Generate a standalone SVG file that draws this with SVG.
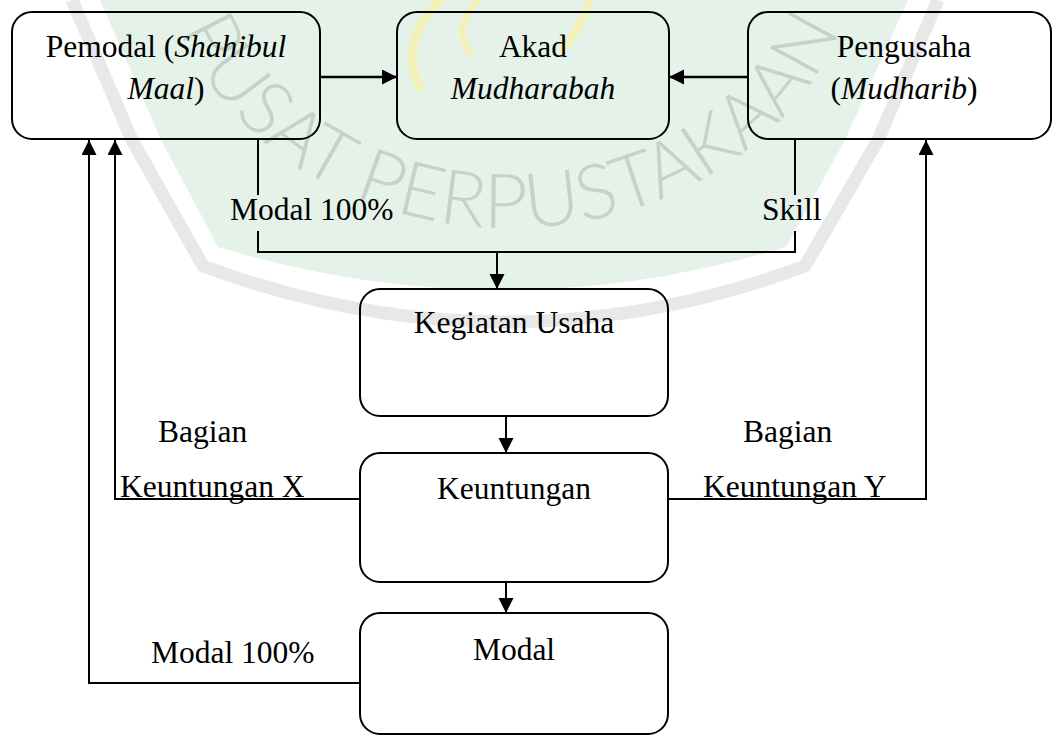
<svg xmlns="http://www.w3.org/2000/svg" width="1054" height="736" viewBox="0 0 1054 736">
  <style>
    .box { fill: none; stroke: #000; stroke-width: 2; }
    .t { font-family: "Liberation Serif", "Times New Roman", serif; font-size: 31.5px; fill: #000; }
    .c { text-anchor: middle; }
    .i { font-style: italic; }
    .ln { fill: none; stroke: #000; stroke-width: 2; }
    .wm { font-family: "Lato", "Liberation Sans", sans-serif; font-weight: 300; font-size: 76px; fill: #c6d1ca; }
  </style>
  <defs>
    <marker id="arr" markerUnits="userSpaceOnUse" markerWidth="16" markerHeight="16" refX="15" refY="7.5" orient="auto">
      <path d="M0,0 L15,7.5 L0,15 Z" fill="#000"/>
    </marker>
    <path id="wmArc" d="M160,-70 A350 298 0 0 0 860,-70"/>
  </defs>

  <rect width="1054" height="736" fill="#fff"/>

  <g id="watermark">
    <path d="M72,0 L132,140 L203,266 Q505,378 805,266 L878,140 L938,0" fill="none" stroke="#e8e8e8" stroke-width="13" stroke-linejoin="round"/>
    <path d="M100,0 L161,140 L218,247 Q502,333 786,247 L845,140 L908,0 Z" fill="#e4f2ea"/>
    <path d="M440,0 Q398,42 420,88" fill="none" stroke="#f4f1b8" stroke-width="9" stroke-linecap="round"/>
    <path d="M478,0 Q452,28 470,52" fill="none" stroke="#f4f1b8" stroke-width="7" stroke-linecap="round"/>
    <path d="M590,0 Q580,30 562,50" fill="none" stroke="#f4f1b8" stroke-width="8" stroke-linecap="round"/>
    <text class="wm"><textPath href="#wmArc" startOffset="50%" text-anchor="middle">PUSAT PERPUSTAKAAN</textPath></text>
  </g>

  <g id="connectors">
    <path class="ln" style="stroke-width:2.5" d="M320,77 H397" marker-end="url(#arr)"/>
    <path class="ln" style="stroke-width:2.5" d="M748,77 H669" marker-end="url(#arr)"/>
    <path class="ln" d="M258,140 V195"/>
    <path class="ln" d="M258,231 V252 H795 V231"/>
    <path class="ln" d="M795,140 V195"/>
    <path class="ln" d="M497,252 V289" marker-end="url(#arr)"/>
    <path class="ln" d="M506,416 V453" marker-end="url(#arr)"/>
    <path class="ln" d="M506,582 V613" marker-end="url(#arr)"/>
    <path class="ln" d="M360,499 H115 V140" marker-end="url(#arr)"/>
    <path class="ln" d="M360,683 H89 V140" marker-end="url(#arr)"/>
    <path class="ln" d="M668,499 H926 V140" marker-end="url(#arr)"/>
  </g>

  <g id="labels">
    <text class="t" x="230" y="220">Modal 100%</text>
    <text class="t" x="762" y="220">Skill</text>
    <text class="t" x="158" y="442">Bagian</text>
    <text class="t" x="120" y="497">Keuntungan X</text>
    <text class="t" x="743" y="442">Bagian</text>
    <text class="t" x="703" y="497">Keuntungan Y</text>
    <text class="t" x="151" y="663">Modal 100%</text>
  </g>

  <g id="pemodal">
    <rect class="box" x="12" y="12" width="308" height="127" rx="20"/>
    <text class="t c" x="166" y="57">Pemodal (<tspan class="i">Shahibul</tspan></text>
    <text class="t c" x="166" y="99"><tspan class="i">Maal</tspan>)</text>
  </g>

  <g id="akad">
    <rect class="box" x="397" y="12" width="272" height="127" rx="20"/>
    <text class="t c" x="533" y="57">Akad</text>
    <text class="t c i" x="533" y="99">Mudharabah</text>
  </g>

  <g id="pengusaha">
    <rect class="box" x="748" y="12" width="303" height="127" rx="20"/>
    <text class="t c" x="904" y="57">Pengusaha</text>
    <text class="t c" x="904" y="99">(<tspan class="i">Mudharib</tspan>)</text>
  </g>

  <g id="kegiatan">
    <rect class="box" x="360" y="289" width="308" height="127" rx="20"/>
    <text class="t c" x="514" y="333">Kegiatan Usaha</text>
  </g>

  <g id="keuntungan">
    <rect class="box" x="360" y="453" width="308" height="129" rx="20"/>
    <text class="t c" x="514" y="499">Keuntungan</text>
  </g>

  <g id="modal">
    <rect class="box" x="360" y="613" width="308" height="121" rx="20"/>
    <text class="t c" x="514" y="660">Modal</text>
  </g>
</svg>
